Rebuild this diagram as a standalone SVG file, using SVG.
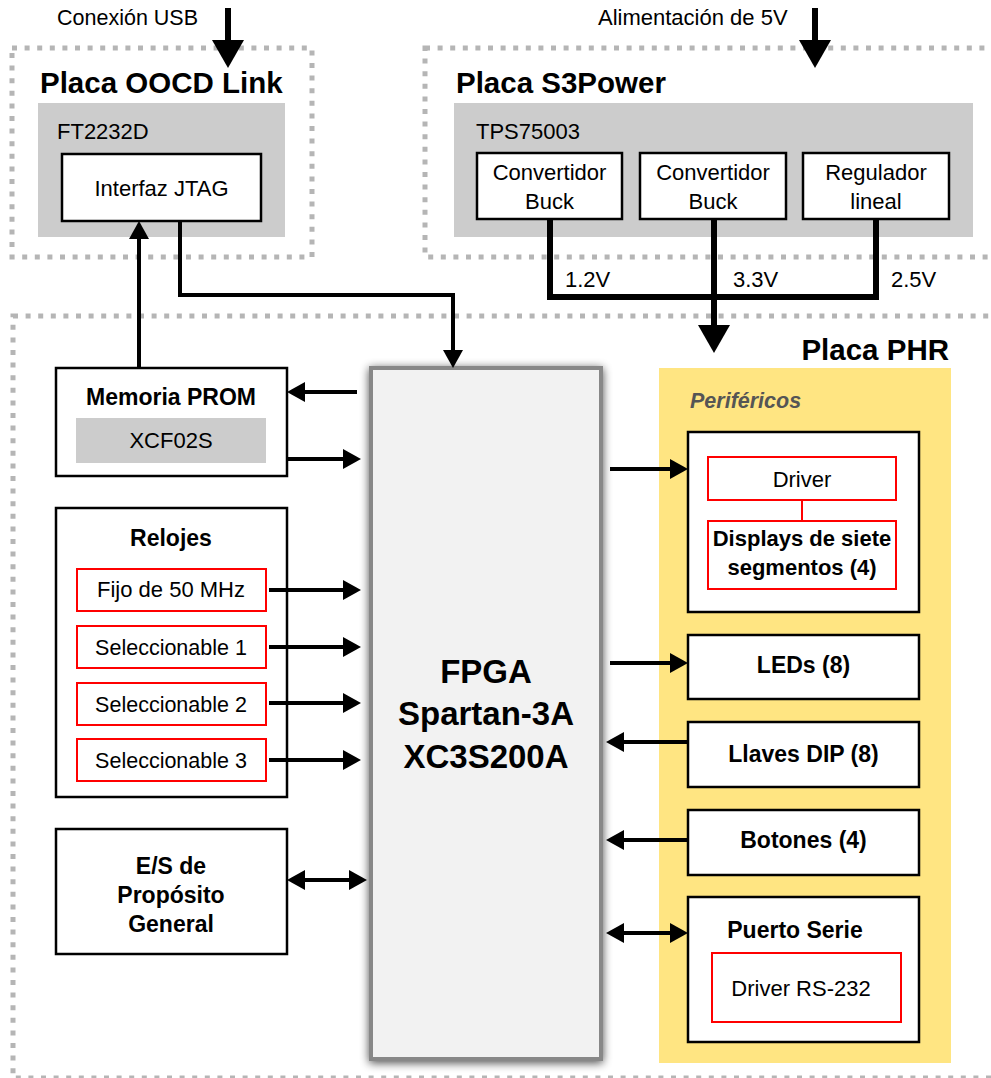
<svg xmlns="http://www.w3.org/2000/svg" width="991" height="1078" viewBox="0 0 991 1078">
<defs>
<style>
.dot{fill:none;stroke:#b5b5b5;stroke-width:5;stroke-dasharray:5 7.6}
.gray{fill:#cccccc}
.box{fill:#fff;stroke:#000;stroke-width:2.5}
.red{fill:#fff;stroke:#ff0000;stroke-width:2}
.t{font-family:"Liberation Sans",Arial,sans-serif;font-size:22px;fill:#000}
.c{text-anchor:middle}
.b{font-weight:bold;font-size:23px}
.ti{font-weight:bold;font-size:29.5px}
.conn{fill:none;stroke:#000;stroke-width:4}
.pw{stroke-width:6}
</style>
<marker id="ah" viewBox="0 0 18 20" markerWidth="18" markerHeight="20" refX="0" refY="10" orient="auto" markerUnits="userSpaceOnUse"><path d="M0,0 L18,10 L0,20 Z" fill="#000"/></marker>
<marker id="ahs" viewBox="0 0 18 20" markerWidth="18" markerHeight="20" refX="0" refY="10" orient="auto-start-reverse" markerUnits="userSpaceOnUse"><path d="M0,0 L18,10 L0,20 Z" fill="#000"/></marker>
<marker id="big" viewBox="0 0 28 32" markerWidth="28" markerHeight="32" refX="0" refY="16" orient="auto" markerUnits="userSpaceOnUse"><path d="M0,0 L28,16 L0,32 Z" fill="#000"/></marker>
<filter id="sh" x="-10%" y="-5%" width="120%" height="110%"><feGaussianBlur in="SourceAlpha" stdDeviation="5"/><feOffset dx="0" dy="2"/><feComponentTransfer><feFuncA type="linear" slope="0.7"/></feComponentTransfer><feMerge><feMergeNode/><feMergeNode in="SourceGraphic"/></feMerge></filter>
</defs>
<rect width="991" height="1078" fill="#fff"/>

<g id="oocd">
<rect class="dot" x="12" y="48" width="300" height="209"/>
<text class="t ti" x="40" y="93">Placa OOCD Link</text>
<rect class="gray" x="38" y="103" width="247" height="134"/>
<text class="t" x="57" y="139">FT2232D</text>
</g>
<g id="jtag">
<rect class="box" x="62" y="154" width="199" height="67"/>
<text class="t c" x="161.5" y="196">Interfaz JTAG</text>
</g>

<g id="s3power">
<rect class="dot" x="425" y="48" width="580" height="209"/>
<text class="t ti" x="456" y="93">Placa S3Power</text>
<rect class="gray" x="454" y="103" width="519" height="134"/>
<text class="t" x="476" y="139">TPS75003</text>
</g>
<g id="buck1">
<rect class="box" x="477" y="153" width="145" height="66"/>
<text class="t c" x="549.5" y="180">Convertidor</text>
<text class="t c" x="549.5" y="209">Buck</text>
</g>
<g id="buck2">
<rect class="box" x="640" y="153" width="146" height="66"/>
<text class="t c" x="713" y="180">Convertidor</text>
<text class="t c" x="713" y="209">Buck</text>
</g>
<g id="reg">
<rect class="box" x="803" y="153" width="146" height="66"/>
<text class="t c" x="876" y="180">Regulador</text>
<text class="t c" x="876" y="209">lineal</text>
</g>

<g id="phr">
<rect class="dot" x="13" y="316" width="990" height="762"/>
<text class="t ti" x="949" y="360" text-anchor="end">Placa PHR</text>
</g>

<g id="perifericos">
<rect x="659" y="368" width="292" height="695" fill="#ffe582"/>
<text class="t" x="690" y="408" style="font-weight:bold;font-style:italic;font-size:21.5px;fill:#555">Periféricos</text>
</g>

<g id="fpga">
<rect x="371" y="368" width="230" height="691" fill="#f2f2f2" stroke="#888" stroke-width="4" filter="url(#sh)"/>
<text class="t c" x="486" y="683" style="font-weight:bold;font-size:33px">FPGA</text>
<text class="t c" x="486" y="725" style="font-weight:bold;font-size:33px">Spartan-3A</text>
<text class="t c" x="486" y="768" style="font-weight:bold;font-size:33px">XC3S200A</text>
</g>

<g id="prom">
<rect class="box" x="56" y="368" width="231" height="108"/>
<text class="t c b" x="171" y="405">Memoria PROM</text>
<rect class="gray" x="76" y="418" width="190" height="45"/>
<text class="t c" x="171" y="448">XCF02S</text>
</g>

<g id="relojes">
<rect class="box" x="56" y="508" width="231" height="289"/>
<text class="t c b" x="171" y="546">Relojes</text>
</g>
<g id="clk50">
<rect class="red" x="77" y="569" width="189" height="42"/>
<text class="t c" x="171" y="597">Fijo de 50 MHz</text>
</g>
<g id="sel1">
<rect class="red" x="77" y="626" width="189" height="42"/>
<text class="t c" x="171" y="655" style="font-size:21.5px">Seleccionable 1</text>
</g>
<g id="sel2">
<rect class="red" x="77" y="683" width="189" height="42"/>
<text class="t c" x="171" y="712" style="font-size:21.5px">Seleccionable 2</text>
</g>
<g id="sel3">
<rect class="red" x="77" y="739" width="189" height="42"/>
<text class="t c" x="171" y="768" style="font-size:21.5px">Seleccionable 3</text>
</g>

<g id="es">
<rect class="box" x="56" y="829" width="231" height="125"/>
<text class="t c b" x="171" y="874">E/S de</text>
<text class="t c b" x="171" y="903">Propósito</text>
<text class="t c b" x="171" y="932">General</text>
</g>

<g id="displays">
<rect class="box" x="688" y="432" width="231" height="180"/>
<rect class="red" x="708" y="457" width="188" height="43"/>
<text class="t c" x="802" y="487">Driver</text>
<line x1="802" y1="500" x2="802" y2="521" stroke="#ff0000" stroke-width="2"/>
<rect class="red" x="708" y="521" width="188" height="68"/>
<text class="t c b" x="802" y="546" style="font-size:22px">Displays de siete</text>
<text class="t c b" x="802" y="575" style="font-size:22px">segmentos (4)</text>
</g>
<g id="leds">
<rect class="box" x="688" y="635" width="231" height="64"/>
<text class="t c b" x="803.5" y="673">LEDs (8)</text>
</g>
<g id="dip">
<rect class="box" x="688" y="722" width="231" height="65"/>
<text class="t c b" x="803.5" y="762">Llaves DIP (8)</text>
</g>
<g id="botones">
<rect class="box" x="688" y="810" width="231" height="65"/>
<text class="t c b" x="803.5" y="848">Botones (4)</text>
</g>
<g id="serie">
<rect class="box" x="688" y="897" width="231" height="145"/>
<text class="t c b" x="795" y="938">Puerto Serie</text>
<rect class="red" x="712" y="953" width="189" height="69"/>
<text class="t c" x="801" y="996">Driver RS-232</text>
</g>

<g id="labels">
<text class="t" x="57" y="25" style="font-size:21.5px">Conexión USB</text>
<text class="t" x="598" y="25" style="font-size:22px">Alimentación de 5V</text>
<text class="t" x="565" y="287">1.2V</text>
<text class="t" x="733" y="287">3.3V</text>
<text class="t" x="891" y="287">2.5V</text>
</g>

<g id="connectors">
<path class="conn pw" d="M228,8 V40" marker-end="url(#big)"/>
<path class="conn pw" d="M815,8 V40" marker-end="url(#big)"/>
<path class="conn" d="M180,221 V295 H453 V350" marker-end="url(#ah)"/>
<path class="conn" d="M139,368 V239" marker-end="url(#ah)"/>
<path class="conn" d="M357,392 H305" marker-end="url(#ah)"/>
<path class="conn" d="M287,459 H343" marker-end="url(#ah)"/>
<path class="conn" d="M269,590 H343" marker-end="url(#ah)"/>
<path class="conn" d="M269,647 H343" marker-end="url(#ah)"/>
<path class="conn" d="M269,703 H343" marker-end="url(#ah)"/>
<path class="conn" d="M269,760 H343" marker-end="url(#ah)"/>
<path class="conn" d="M305,880 H349" marker-start="url(#ahs)" marker-end="url(#ah)"/>
<path class="conn" d="M610,469 H670" marker-end="url(#ah)"/>
<path class="conn" d="M610,663 H670" marker-end="url(#ah)"/>
<path class="conn" d="M688,742 H624" marker-end="url(#ah)"/>
<path class="conn" d="M688,840 H624" marker-end="url(#ah)"/>
<path class="conn" d="M624,933 H670" marker-start="url(#ahs)" marker-end="url(#ah)"/>
<path class="conn pw" d="M550,219 V297 H876 V219"/>
<path class="conn pw" d="M714,219 V325" marker-end="url(#big)"/>
</g>
</svg>
